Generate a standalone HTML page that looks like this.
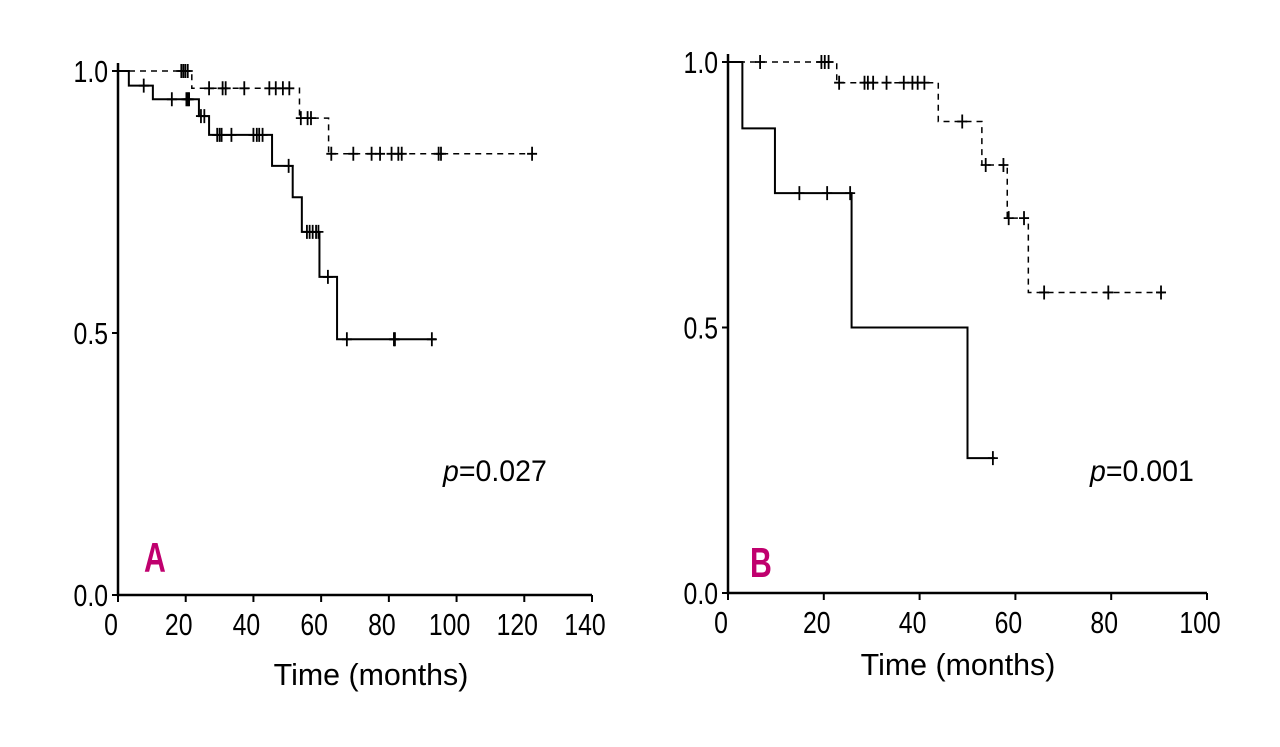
<!DOCTYPE html>
<html><head><meta charset="utf-8"><style>
html,body{margin:0;padding:0;background:#fff;}
svg{display:block;font-family:"Liberation Sans",sans-serif;}
</style></head><body>
<svg id="fig" width="1280" height="747" viewBox="0 0 1280 747"></svg>
<script>
// Panel A data
const aSolidTimes=[0,3.2,10.3,23.9,26.9,45.5,51.6,54.3,59.5,64.7];
const aSolidSurv=[1,0.972,0.946,0.914,0.878,0.819,0.759,0.693,0.607,0.488];
const aSolidCens=[7.6,15.9,20.2,20.6,21,24.5,25.5,29.3,30,30.6,33.5,40,41,41.7,42.7,50.4,55.8,56.6,57.5,58.5,59.2,62,67.6,81.5,81.8,92.7];
const aSolidEnd=93.9;
const aDashTimes=[0,21.8,53.6,62.2];
const aDashSurv=[1,0.967,0.91,0.842];
const aDashCens=[18.7,19.3,19.9,20.6,26.9,30.9,31.8,37.3,44.7,46.6,48.7,50.6,54,56,57,63,69.5,74.9,77.4,80.8,82.8,83.8,94.7,95.4,122.3];
const aDashEnd=123.7;
const aXTicks=[0,20,40,60,80,100,120,140];
// Panel B data
const bSolidTimes=[0,3.0,9.8,25.8,50];
const bSolidSurv=[1,0.875,0.753,0.5,0.254];
const bSolidCens=[14.9,20.7,25.5,55.3];
const bSolidEnd=55.7;
const bDashTimes=[0,22.7,43.9,53,58.3,62.7];
const bDashSurv=[1,0.961,0.888,0.806,0.706,0.566];
const bDashCens=[6.7,19.5,20.2,21,23.2,28.5,29.2,30.3,33.1,36.7,38.5,39.6,41,48.9,53.8,57.5,58.6,61.8,66,79.4,90.4];
const bDashEnd=91.3;
const bXTicks=[0,20,40,60,80,100];
const yTicks=[0,0.5,1];

const NS='http://www.w3.org/2000/svg';
const svg=document.getElementById('fig');
function el(tag,attrs,parent){const e=document.createElementNS(NS,tag);for(const k in attrs)e.setAttribute(k,attrs[k]);(parent||svg).appendChild(e);return e;}
function ntext(x,y,size,anchor,sx,parent){
  return el('text',{x:0,y:0,'font-size':size,'text-anchor':anchor,transform:`translate(${x},${y}) scale(${sx},1)`},parent);
}

function panel(cfg){
  const g=el('g',{});
  
  
  const xs=v=>cfg.x0+v*(cfg.x1-cfg.x0)/cfg.xmax;
  const ys=v=>cfg.y0-v*(cfg.y0-cfg.y1);
  const ax=el('path',{d:`M${xs(0)},${ys(1)-8}V${ys(0)}H${xs(cfg.xmax)}`,stroke:'#000','stroke-width':2.5,fill:'none'},g);
  
  
  cfg.xticks.forEach(t=>{
    el('line',{x1:xs(t),x2:xs(t),y1:ys(0),y2:ys(0)+7,stroke:'#000','stroke-width':2},g);
    const tx=ntext(xs(t)-7,ys(0)+40,31,'middle',0.8,g);
    tx.textContent=t;
    
    
  });
  yTicks.forEach(t=>{
    el('line',{x1:xs(0)-6,x2:xs(0),y1:ys(t),y2:ys(t),stroke:'#000','stroke-width':2},g);
    const tx=ntext(xs(0)-10,ys(t)+11,31,'end',0.8,g);
    tx.textContent=t.toFixed(1);
    
    
  });
  const xt=ntext(cfg.titleX,cfg.titleY,31,'middle',0.98,g);
  xt.textContent='Time (months)';
  
  
  const pt=ntext(cfg.pX,481,30,'start',0.95,g);
  pt.innerHTML='<tspan font-style="italic">p</tspan>='+cfg.p;
  
  
  const lt=ntext(cfg.lX,cfg.lY,42,'start',0.72,g);
  lt.setAttribute('font-weight','bold');
  lt.setAttribute('fill','#c0006e');
  lt.textContent=cfg.letter;
  
  
  cfg.series.forEach(s=>{
    let d=`M${xs(0)},${ys(s.surv[0])}`;
    for(let i=1;i<s.times.length;i++){d+=`H${xs(s.times[i])}V${ys(s.surv[i])}`;}
    d+=`H${xs(s.end)}`;
    const p=el('path',{d,stroke:'#000','stroke-width':s.dash?1.5:2,fill:'none','stroke-dasharray':s.dash?'6,5':'none'},g);
    
    
    s.cens.forEach(c=>{
      let v=s.surv[0];
      for(let i=0;i<s.times.length;i++) if(s.times[i]<=c) v=s.surv[i];
      const m=el('path',{d:`M${xs(c)-5},${ys(v)}H${xs(c)+5}M${xs(c)},${ys(v)-7}V${ys(v)+7}`,stroke:'#000','stroke-width':1.8,fill:'none'},g);
      
      
    });
  });
}
panel({name:'panel-a',x0:118,x1:592,xmax:140,y0:595,y1:71,xticks:aXTicks,titleX:371,titleY:685,pX:443,p:'0.027',letter:'A',lX:144,lY:572,
  series:[{name:'solid-curve',times:aSolidTimes,surv:aSolidSurv,cens:aSolidCens,end:aSolidEnd,dash:false},
          {name:'dashed-curve',times:aDashTimes,surv:aDashSurv,cens:aDashCens,end:aDashEnd,dash:true}]});
panel({name:'panel-b',x0:728,x1:1207,xmax:100,y0:593,y1:62,xticks:bXTicks,titleX:958,titleY:675,pX:1090,p:'0.001',letter:'B',lX:750,lY:577,
  series:[{name:'solid-curve',times:bSolidTimes,surv:bSolidSurv,cens:bSolidCens,end:bSolidEnd,dash:false},
          {name:'dashed-curve',times:bDashTimes,surv:bDashSurv,cens:bDashCens,end:bDashEnd,dash:true}]});
</script>
</body></html>
